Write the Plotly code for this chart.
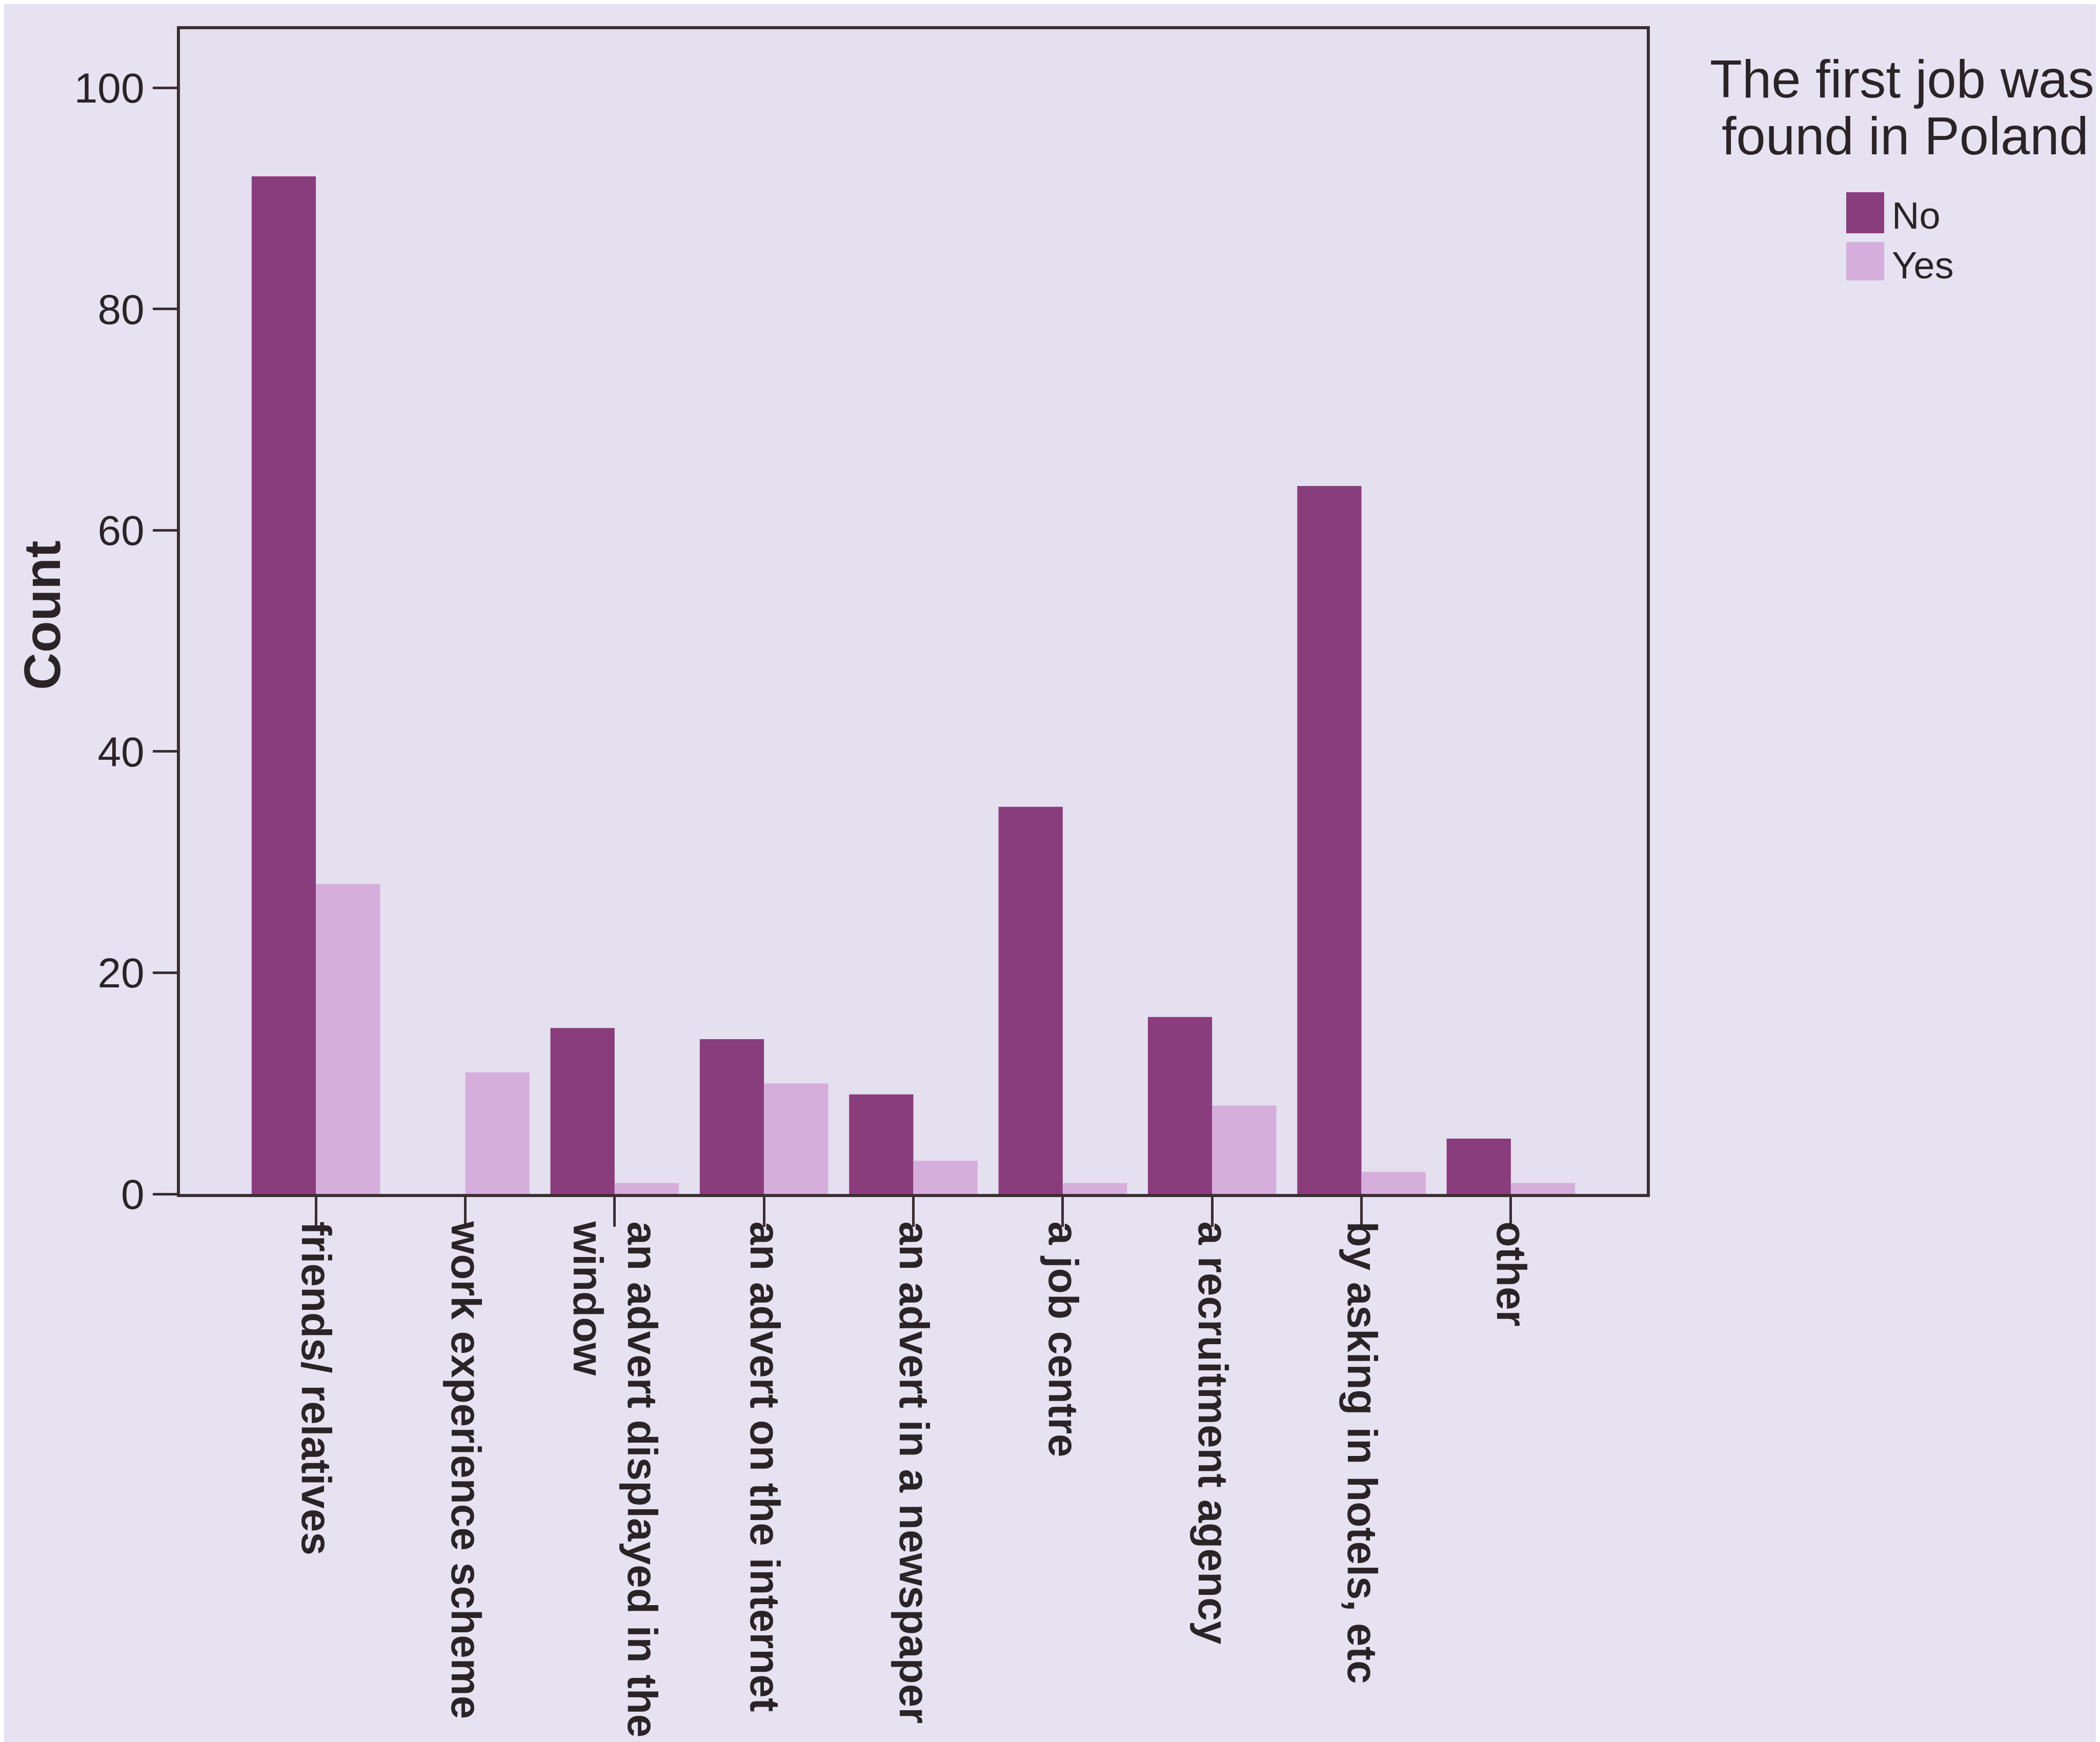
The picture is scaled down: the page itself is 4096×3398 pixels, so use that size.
import plotly.graph_objects as go

# ---------------- data ----------------
categories = [
    "friends/ relatives",
    "work experience scheme",
    "an advert displayed in the<br>window",
    "an advert on the internet",
    "an advert in a newspaper",
    "a job centre",
    "a recruitment agency",
    "by asking in hotels, etc",
    "other",
]
no_counts = [92, 0, 15, 14, 9, 35, 16, 64, 5]
yes_counts = [28, 11, 1, 10, 3, 1, 8, 2, 1]
series_names = ["No", "Yes"]
y_ticks = [0, 20, 40, 60, 80, 100]
legend_title_lines = ["The first job was", "found in Poland"]
y_title = "Count"

# ---------------- style ----------------
W_PX, H_PX = 4096, 3398
L, R, T, B = 343, 892, 49, 1077
PW, PH = W_PX - L - R, H_PX - T - B

BG = "#e6e2f2"
PLOT_BG = "#e4e0f0"
NO_COLOR = "#8a3d7c"
YES_COLOR = "#d6aedb"
TEXT = "#2b2426"
LINE = "#3a2e31"
FONT = "Liberation Sans, Arial, sans-serif"


def xp(px):
    return (px - L) / PW


def yp(py):
    return 1 - (py - T) / PH


fig = go.Figure()
fig.add_trace(go.Bar(x=list(range(len(categories))), y=no_counts, name=series_names[0],
                     marker=dict(color=NO_COLOR, line=dict(width=0))))
fig.add_trace(go.Bar(x=list(range(len(categories))), y=yes_counts, name=series_names[1],
                     marker=dict(color=YES_COLOR, line=dict(width=0))))

fig.update_layout(
    width=W_PX, height=H_PX,
    margin=dict(l=L, r=R, t=T, b=B, pad=0, autoexpand=False),
    paper_bgcolor=BG, plot_bgcolor=PLOT_BG,
    barmode="group", bargap=0.14, bargroupgap=0,
    showlegend=False,
    font=dict(family=FONT, color=TEXT),
)

fig.update_xaxes(
    automargin=False,
    range=[-0.91, 8.91],
    tickmode="array", tickvals=list(range(len(categories))), ticktext=categories,
    tickangle=90,
    tickfont=dict(family=FONT, size=82, color=TEXT, weight="bold"),
    ticks="outside", ticklen=58, tickwidth=5, tickcolor=LINE,
    ticklabelstandoff=-27,
    showline=True, linewidth=6, linecolor=LINE, mirror=True,
    showgrid=False, zeroline=False,
)
fig.update_yaxes(
    automargin=False,
    range=[0, 105.3],
    tickmode="array", tickvals=y_ticks, ticktext=[str(v) for v in y_ticks],
    tickfont=dict(family=FONT, size=82, color=TEXT),
    ticks="outside", ticklen=47, tickwidth=5, tickcolor=LINE,
    showline=True, linewidth=6, linecolor=LINE, mirror=True,
    showgrid=False, zeroline=False,
)

annotations = [
    dict(text=f"<b>{y_title}</b>", x=xp(74), y=yp(1192), xref="paper", yref="paper",
         xanchor="center", yanchor="middle", textangle=-90, showarrow=False,
         font=dict(family=FONT, size=101, color=TEXT)),
    dict(text=legend_title_lines[0], x=xp(3702), y=yp(147), xref="paper", yref="paper",
         xanchor="center", yanchor="middle", showarrow=False,
         font=dict(family=FONT, size=103, color=TEXT)),
    dict(text=legend_title_lines[1], x=xp(3708), y=yp(257), xref="paper", yref="paper",
         xanchor="center", yanchor="middle", showarrow=False,
         font=dict(family=FONT, size=103, color=TEXT)),
    dict(text=series_names[0], x=xp(3680), y=yp(413), xref="paper", yref="paper",
         xanchor="left", yanchor="middle", showarrow=False,
         font=dict(family=FONT, size=74, color=TEXT)),
    dict(text=series_names[1], x=xp(3680), y=yp(509), xref="paper", yref="paper",
         xanchor="left", yanchor="middle", showarrow=False,
         font=dict(family=FONT, size=74, color=TEXT)),
]
shapes = [
    dict(type="rect", xref="paper", yref="paper", x0=xp(3593), x1=xp(3667),
         y0=yp(447), y1=yp(367), fillcolor=NO_COLOR, line=dict(width=0)),
    dict(type="rect", xref="paper", yref="paper", x0=xp(3593), x1=xp(3667),
         y0=yp(539), y1=yp(464), fillcolor=YES_COLOR, line=dict(width=0)),
]
fig.update_layout(annotations=annotations, shapes=shapes)

fig.write_html("out.html")
